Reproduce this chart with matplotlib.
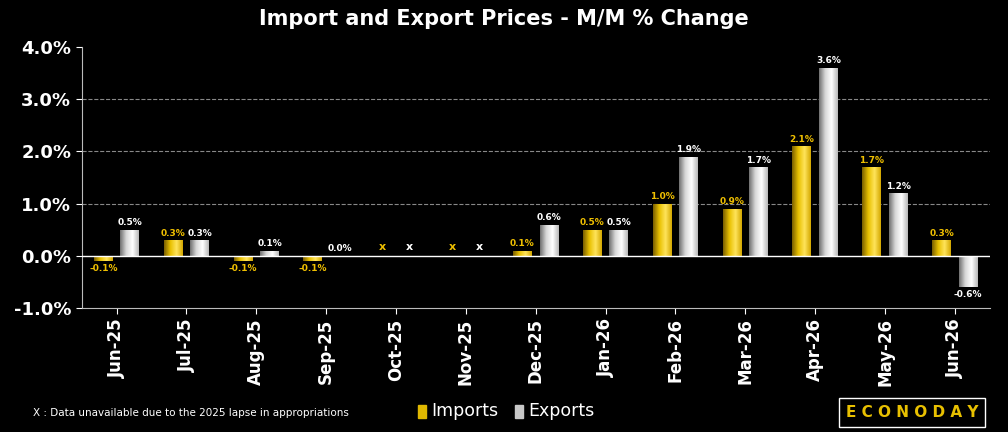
import numpy as np
import matplotlib
matplotlib.use("Agg")
import matplotlib.pyplot as plt
from matplotlib.colors import LinearSegmentedColormap

months = ["Jun-25","Jul-25","Aug-25","Sep-25","Oct-25","Nov-25","Dec-25","Jan-26","Feb-26","Mar-26","Apr-26","May-26","Jun-26"]
imports = [-0.1,0.3,-0.1,-0.1,np.nan,np.nan,0.1,0.5,1.0,0.9,2.1,1.7,0.3]
exports = [0.5,0.3,0.1,0.0,np.nan,np.nan,0.6,0.5,1.9,1.7,3.6,1.2,-0.6]

fig = plt.figure(figsize=(10.08,4.32), dpi=100, facecolor="black")
ax = fig.add_axes([0.081,0.287,0.901,0.604], facecolor="black")
x = np.arange(len(months))
w = 0.27
gold = LinearSegmentedColormap.from_list("g", ["#7a5f00","#e8c000","#ffe45a","#d4a800"])
silv = LinearSegmentedColormap.from_list("s", ["#707070","#d8d8d8","#ffffff","#b8b8b8"])
grad = np.linspace(0,1,64).reshape(1,-1)

def draw(vals, off, cmap, col):
    for xi, v in zip(x, vals):
        xc = xi + off
        if np.isnan(v):
            ax.text(xc, 0.08, "x", color=col, ha="center", va="bottom", fontsize=8, fontweight="bold")
            continue
        b = ax.bar(xc, v, w, color="none", edgecolor="none")[0]
        im = ax.imshow(grad, cmap=cmap, aspect="auto", extent=[xc-w/2, xc+w/2, min(0,v), max(0,v)], zorder=2)
        im.set_clip_path(b)
        if v >= 0:
            ax.text(xc, v+0.05, f"{v:.1f}%", color=col, ha="center", va="bottom", fontsize=6.5, fontweight="bold")
        else:
            ax.text(xc, v-0.05, f"{v:.1f}%", color=col, ha="center", va="top", fontsize=6.5, fontweight="bold")

draw(imports, -0.19, gold, "#f0c000")
draw(exports, 0.19, silv, "white")

ax.set_xlim(-0.5, len(months)-0.5)
ax.set_ylim(-1.0, 4.0)
ax.set_yticks([-1,0,1,2,3,4])
ax.set_yticklabels(["-1.0%","0.0%","1.0%","2.0%","3.0%","4.0%"], color="white", fontsize=13, fontweight="bold")
ax.set_xticks(x)
ax.set_xticklabels(months, rotation=90, color="white", fontsize=12, fontweight="bold")
ax.tick_params(axis="both", colors="white", length=4)
for y in [1,2,3]:
    ax.axhline(y, color="#888888", lw=0.8, ls="--", zorder=0)
ax.axhline(0, color="white", lw=1, zorder=3)
for s in ax.spines.values():
    s.set_color("#bbbbbb")
ax.spines["top"].set_visible(False)
ax.spines["right"].set_visible(False)

fig.text(0.5, 0.955, "Import and Export Prices - M/M % Change", color="white", ha="center", va="center", fontsize=15, fontweight="bold")
fig.text(0.033, 0.045, "X : Data unavailable due to the 2025 lapse in appropriations", color="white", fontsize=7.5, va="center")
fig.patches.append(plt.Rectangle((0.415,0.033),0.008,0.03, transform=fig.transFigure, color="#e0b800"))
fig.text(0.428, 0.048, "Imports", color="white", fontsize=12.5, va="center")
fig.patches.append(plt.Rectangle((0.511,0.033),0.008,0.03, transform=fig.transFigure, color="#c8c8c8"))
fig.text(0.524, 0.048, "Exports", color="white", fontsize=12.5, va="center")
fig.text(0.905, 0.045, "E C O N O D A Y", color="#e8c000", fontsize=11, fontweight="bold", ha="center", va="center",
         bbox=dict(facecolor="black", edgecolor="white", lw=1, boxstyle="square,pad=0.45"))
fig.savefig("out.png", dpi=100, facecolor="black")
